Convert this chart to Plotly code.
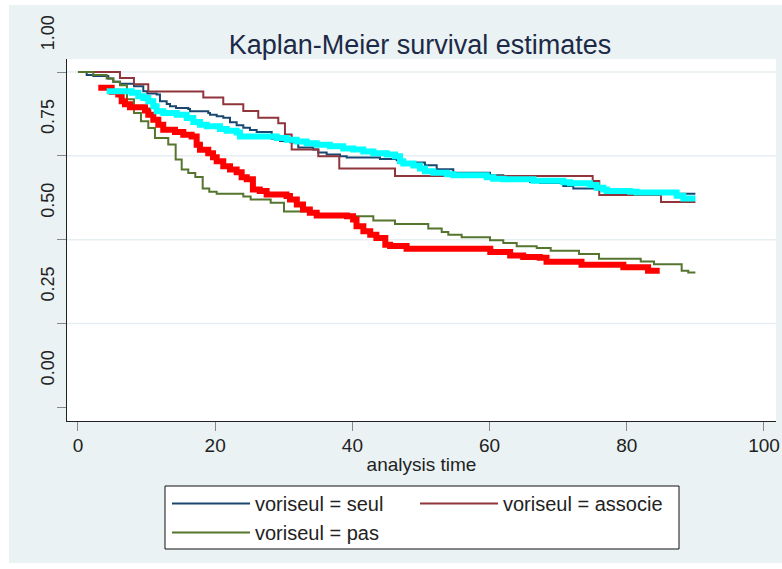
import plotly.graph_objects as go

# Kaplan-Meier step estimates: (time of drop, survival after drop)
seul_t = [0, 1.27, 2.23, 4.42, 5.15, 6.12, 8.16, 9.52, 10.10, 11.47, 11.95, 12.93, 13.41, 14.29,
          16.08, 16.33, 18.99, 19.24, 20.22, 21.18, 22.16, 23.13, 24.10, 25.07, 26.05, 28.24,
          29.45, 30.90, 32.11, 34.30, 35.03, 36.25, 38.19, 39.17, 44.02, 46.46, 47.42, 50.58,
          52.29, 54.71, 60.06, 62.00, 65.89, 67.35, 70.74, 72.20, 75.61, 77.07, 87.27, 90]
seul_s = [1.0, 0.991, 0.988, 0.981, 0.971, 0.965, 0.958, 0.943, 0.936, 0.933, 0.913, 0.905, 0.898, 0.893,
          0.890, 0.883, 0.878, 0.873, 0.868, 0.864, 0.850, 0.841, 0.834, 0.827, 0.821, 0.801,
          0.794, 0.791, 0.775, 0.769, 0.760, 0.754, 0.749, 0.745, 0.741, 0.737, 0.730, 0.722,
          0.710, 0.700, 0.692, 0.675, 0.672, 0.669, 0.660, 0.653, 0.650, 0.645, 0.637, 0.637]

associe_t = [0, 6.12, 8.16, 10.25, 18.27, 21.18, 24.10, 26.28, 29.20, 30.17, 31.15, 35.03,
             38.09, 46.21, 75.03, 75.99, 84.99, 90]
associe_s = [1.0, 0.982, 0.964, 0.942, 0.924, 0.904, 0.884, 0.864, 0.847, 0.814, 0.769, 0.749,
             0.712, 0.690, 0.675, 0.633, 0.612, 0.612]

pas_t = [0, 2.23, 4.18, 5.15, 6.12, 7.14, 8.16, 9.18, 10.25, 11.22, 13.16, 14.24, 15.12, 16.08,
         17.10, 18.18, 19.14, 20.22, 24.10, 25.17, 28.09, 30.03, 34.7, 43.05, 46.21, 51.06,
         53.02, 53.98, 55.93, 60.06, 62.00, 63.95, 66.87, 68.91, 73.03, 75.95, 82.03, 83.97,
         88.0, 88.96, 90]
pas_s = [1.0, 0.991, 0.981, 0.971, 0.961, 0.919, 0.878, 0.853, 0.833, 0.803, 0.784, 0.739, 0.709, 0.699,
         0.687, 0.653, 0.643, 0.637, 0.629, 0.620, 0.610, 0.584, 0.570, 0.557, 0.547, 0.533,
         0.523, 0.515, 0.507, 0.498, 0.490, 0.480, 0.475, 0.467, 0.457, 0.443, 0.435, 0.427,
         0.407, 0.402, 0.402]

red_t = [2.96, 4.91, 5.87, 6.37, 6.85, 7.58, 9.77, 10.25, 10.98, 11.71, 12.43, 14.14, 15.35, 16.57,
         17.30, 17.78, 18.99, 19.68, 20.22, 21.18, 22.16, 23.13, 23.86, 24.6, 25.5, 26.5, 27.5,
         30.4, 30.9, 31.9, 32.8, 33.8, 34.8, 39.2, 40.1, 40.6, 41.6, 42.6, 43.5, 44.8, 45.5,
         47.9, 60.1, 63.0, 64.9, 67.3, 68.3, 73.4, 79.5, 83.1, 84.8]
red_s = [0.953, 0.941, 0.933, 0.913, 0.904, 0.895, 0.885, 0.873, 0.858, 0.843, 0.828, 0.821, 0.813, 0.808,
         0.783, 0.768, 0.758, 0.746, 0.734, 0.719, 0.709, 0.701, 0.686, 0.680, 0.650, 0.645, 0.635,
         0.630, 0.620, 0.605, 0.590, 0.580, 0.572, 0.570, 0.560, 0.540, 0.525, 0.515, 0.505, 0.485, 0.481,
         0.473, 0.463, 0.453, 0.448, 0.446, 0.434, 0.425, 0.418, 0.407, 0.407]

cyan_t = [4.18, 7.83, 8.79, 9.52, 10.25, 10.98, 11.47, 12.43, 14.39, 15.85, 16.81, 17.78, 18.76,
          20.70, 21.68, 23.13, 23.62, 28.97, 30.42, 31.88, 33.34, 34.80, 36.73, 38.67, 40.13,
          41.59, 43.05, 45.00, 46.21, 46.94, 47.42, 48.88, 49.85, 50.58, 51.79, 53.75, 54.71,
          59.58, 60.54, 62.00, 66.37, 70.74, 71.72, 74.64, 75.61, 76.58, 77.07, 80.47, 81.44,
          87.27, 88.24, 90]
cyan_s = [0.943, 0.938, 0.928, 0.923, 0.913, 0.898, 0.883, 0.878, 0.873, 0.863, 0.851, 0.843, 0.838,
          0.830, 0.825, 0.820, 0.808, 0.803, 0.798, 0.793, 0.788, 0.783, 0.779, 0.772, 0.769,
          0.763, 0.758, 0.754, 0.749, 0.734, 0.727, 0.721, 0.712, 0.704, 0.700, 0.695, 0.692,
          0.686, 0.682, 0.680, 0.676, 0.671, 0.668, 0.663, 0.655, 0.650, 0.645, 0.643, 0.641,
          0.631, 0.623, 0.623]

x_ticks = [0, 20, 40, 60, 80, 100]
y_ticks = [0, 0.25, 0.5, 0.75, 1.0]
y_tick_text = ["0.00", "0.25", "0.50", "0.75", "1.00"]
grid_levels = [0.25, 0.5, 0.75, 1.0]

FONT = "Liberation Sans, Arial, sans-serif"
BG = "#EAF2F3"
W, H = 782, 569
L, R, T, B = 67, 6, 59, 148
PW, PH = W - L - R, H - T - B
Y_RANGE = [-0.041, 1.039]


def px_x(p):
    """page pixel column -> paper x"""
    return (p - L) / PW


def px_y(p):
    """page pixel row -> paper y"""
    return (H - B - p) / PH


fig = go.Figure()

for t, s, name, color in [
    (seul_t, seul_s, "voriseul = seul", "#1a476f"),
    (associe_t, associe_s, "voriseul = associe", "#90353b"),
    (pas_t, pas_s, "voriseul = pas", "#55752f"),
]:
    fig.add_trace(go.Scatter(x=t, y=s, mode="lines", name=name,
                             line=dict(color=color, width=2, shape="hv")))

fig.add_trace(go.Scatter(x=red_t, y=red_s, mode="lines", showlegend=False,
                         line=dict(color="#ff0000", width=6, shape="hv")))
fig.add_trace(go.Scatter(x=cyan_t, y=cyan_s, mode="lines", showlegend=False,
                         line=dict(color="#00ffff", width=6, shape="hv")))

# light horizontal grid lines
shapes = [dict(type="line", xref="paper", x0=0, x1=1, yref="y", y0=g, y1=g,
               line=dict(color="#E6EEF1", width=1.5), layer="below") for g in grid_levels]
# white page margins around the tinted background
white = dict(fillcolor="white", line=dict(width=0), layer="below", xref="paper", yref="paper", type="rect")
shapes += [
    dict(white, x0=px_x(-2), x1=px_x(9), y0=px_y(H + 2), y1=px_y(-2)),
    dict(white, x0=px_x(-2), x1=px_x(W + 2), y0=px_y(5), y1=px_y(-2)),
    dict(white, x0=px_x(-2), x1=px_x(W + 2), y0=px_y(H + 2), y1=px_y(563)),
]
# legend frame
shapes.append(dict(type="rect", xref="paper", yref="paper",
                   x0=px_x(165), x1=px_x(679), y0=px_y(549), y1=px_y(486),
                   fillcolor="white", line=dict(color="#111111", width=1), layer="above"))

# rotated y tick labels, set above their ticks
annotations = [dict(text=txt, xref="paper", x=px_x(48), yref="paper",
                    y=(v + 0.116 - Y_RANGE[0]) / (Y_RANGE[1] - Y_RANGE[0]),
                    textangle=-90, showarrow=False, xanchor="center", yanchor="middle",
                    font=dict(family=FONT, size=18, color="#222222"))
               for v, txt in zip(y_ticks, y_tick_text)]

fig.update_layout(
    width=W, height=H,
    margin=dict(l=L, r=R, t=T, b=B),
    paper_bgcolor=BG, plot_bgcolor="white",
    font=dict(family=FONT, color="#222222"),
    title=dict(text="Kaplan-Meier survival estimates", x=420 / W, xanchor="center",
               y=1 - 45 / H, yanchor="middle",
               font=dict(family=FONT, size=27, color="#1c2a48")),
    xaxis=dict(range=[-1.6, 101.75], tickvals=x_ticks, ticks="outside", ticklen=9,
               tickcolor="#888888", tickwidth=1, showline=True, linecolor="#222222",
               linewidth=1, showgrid=False, zeroline=False, automargin=False,
               ticklabelstandoff=-2,
               tickfont=dict(family=FONT, size=19, color="#222222"),
               title=dict(text="analysis time", standoff=2,
                          font=dict(family=FONT, size=19, color="#222222"))),
    yaxis=dict(range=Y_RANGE, tickvals=y_ticks, ticks="outside", ticklen=9,
               tickcolor="#888888", tickwidth=1, showline=True, linecolor="#222222",
               linewidth=1, showgrid=False, zeroline=False, showticklabels=False,
               automargin=False),
    legend=dict(orientation="h", x=px_x(167), xanchor="left", y=px_y(484), yanchor="top",
                bgcolor="rgba(0,0,0,0)", borderwidth=0,
                font=dict(family=FONT, size=20, color="#222222"),
                itemwidth=78, entrywidth=155, tracegroupgap=0),
    shapes=shapes,
    annotations=annotations,
    showlegend=True,
)

fig.write_html("out.html")
